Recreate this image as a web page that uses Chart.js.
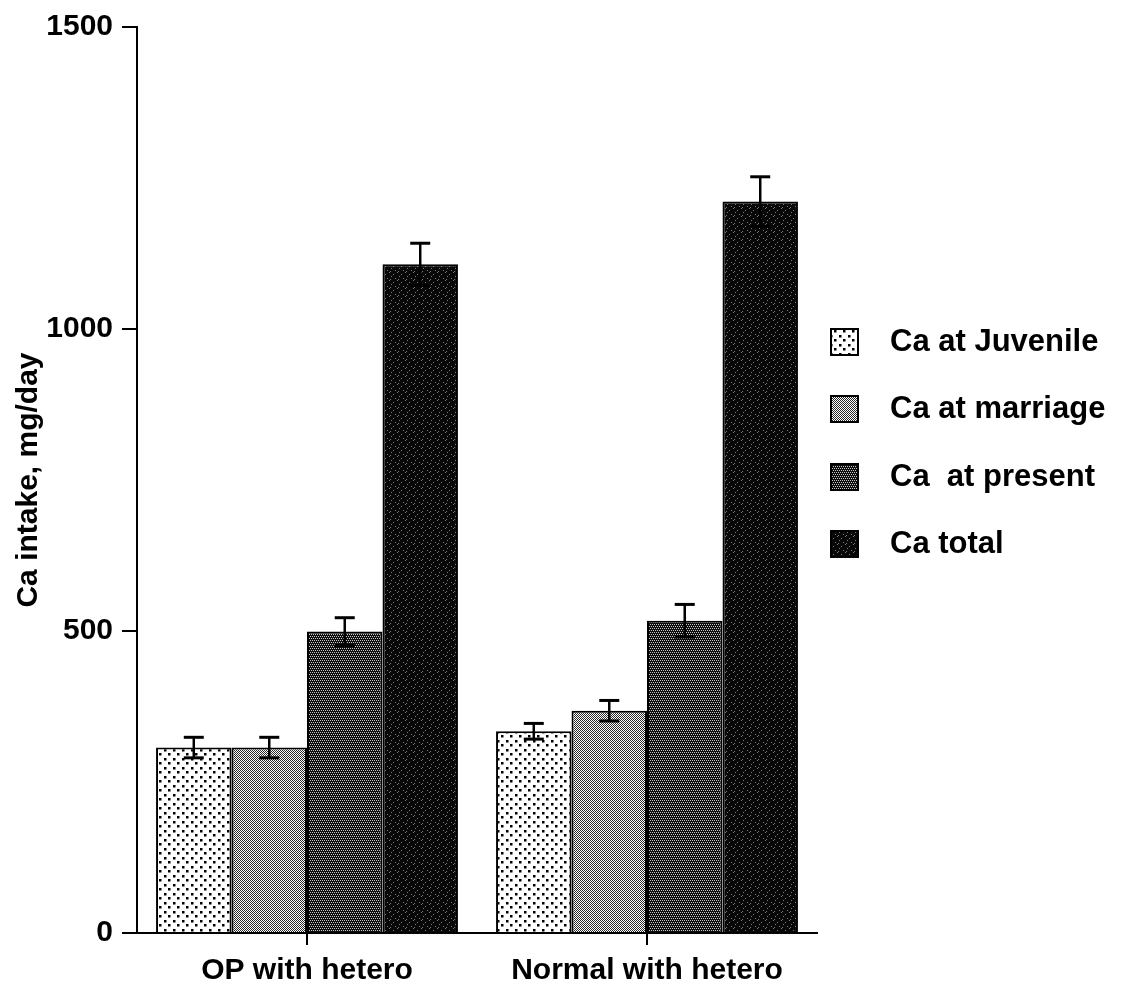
<!DOCTYPE html>
<html>
<head>
<meta charset="utf-8">
<script src="https://cdn.jsdelivr.net/npm/chart.js@4/dist/chart.umd.min.js"></script>
<style>
  html, body { margin: 0; padding: 0; background: #fff; }
  #wrap { width: 1122px; height: 989px; position: relative; }
</style>
</head>
<body>
<div id="wrap"><canvas id="c"></canvas></div>
<script>
// ---- data ----
const categories = ['OP with hetero', 'Normal with hetero'];
const seriesNames = ['Ca at Juvenile', 'Ca at marriage', 'Ca  at present', 'Ca total'];
const caJuvenile = [307, 334];
const caMarriage = [307, 368];
const caPresent  = [499, 517];
const caTotal    = [1107, 1211];
const errJuvenile = [17, 13];
const errMarriage = [17, 17];
const errPresent  = [23, 27];
const errTotal    = [35, 41];
const yTicks = [0, 500, 1000, 1500];

// ---- patterns ----
function makePattern(size, base, ink, pixels, px) {
  const c = document.createElement('canvas');
  c.width = c.height = size;
  const g = c.getContext('2d');
  g.fillStyle = base; g.fillRect(0, 0, size, size);
  g.fillStyle = ink;
  pixels.forEach(p => g.fillRect(p[0], p[1], px || 1, px || 1));
  return g.createPattern(c, 'repeat');
}
const pJuvenile = makePattern(9, '#ffffff', '#000000', [[2,2],[6,6]], 2.5);
const pMarriage = makePattern(2, '#ffffff', '#2a2a2a', [[0,0],[1,1]], 1);
const pPresent  = makePattern(4, '#0e0e0e', '#c8c8c8', [[0,0],[2,0],[1,2],[3,2]], 1);
const pTotal    = makePattern(8, '#080808', '#7a7a7a', [[1,2],[5,0],[3,6],[7,4],[6,7]], 1);
const fills = [pJuvenile, pMarriage, pPresent, pTotal];
const values = [caJuvenile, caMarriage, caPresent, caTotal];
const errors = [errJuvenile, errMarriage, errPresent, errTotal];

const FONT = 'Liberation Sans, Arial, Helvetica, sans-serif';

const errorBars = {
  id: 'errorBars',
  afterDatasetsDraw(chart) {
    const ctx = chart.ctx;
    const y = chart.scales.y;
    ctx.save();
    ctx.strokeStyle = '#000';
    chart.data.datasets.forEach((ds, i) => {
      const meta = chart.getDatasetMeta(i);
      meta.data.forEach((el, j) => {
        const v = ds.data[j], e = errors[i][j];
        const x = el.x;
        const yt = y.getPixelForValue(v + e);
        const yb = y.getPixelForValue(v - e);
        ctx.lineWidth = 2.5;
        ctx.beginPath(); ctx.moveTo(x, yt); ctx.lineTo(x, yb); ctx.stroke();
        ctx.lineWidth = 3;
        ctx.beginPath(); ctx.moveTo(x - 10, yt); ctx.lineTo(x + 10, yt); ctx.stroke();
        ctx.beginPath(); ctx.moveTo(x - 10, yb); ctx.lineTo(x + 10, yb); ctx.stroke();
      });
    });
    ctx.restore();
  }
};

const customLegend = {
  id: 'customLegend',
  afterDraw(chart) {
    const ctx = chart.ctx;
    const rows = [342, 409, 477, 544];
    ctx.save();
    seriesNames.forEach((name, i) => {
      const cy = rows[i];
      ctx.fillStyle = fills[i];
      ctx.fillRect(831, cy - 13, 27, 26);
      ctx.strokeStyle = '#000';
      ctx.lineWidth = 2;
      ctx.strokeRect(831, cy - 13, 27, 26);
      ctx.fillStyle = '#000';
      ctx.font = 'bold 31px ' + FONT;
      ctx.textBaseline = 'middle';
      ctx.textAlign = 'left';
      ctx.fillText(name, 890, cy);
    });
    ctx.restore();
  }
};

new Chart(document.getElementById('c'), {
  type: 'bar',
  data: {
    labels: categories,
    datasets: seriesNames.map((n, i) => ({
      label: n,
      data: values[i],
      backgroundColor: fills[i],
      borderColor: '#000',
      borderWidth: 2,
      categoryPercentage: 0.888,
      barPercentage: 1.0
    }))
  },
  options: {
    responsive: true,
    maintainAspectRatio: false,
    animation: false,
    devicePixelRatio: 1,
    layout: { padding: { left: 0, right: 305, top: 25, bottom: 0 } },
    plugins: { legend: { display: false }, tooltip: { enabled: false } },
    scales: {
      x: {
        afterFit(s) { s.height = 56; },
        grid: { display: true, drawOnChartArea: false, offset: false, tickLength: 12, color: '#000', lineWidth: 2 },
        border: { display: true, color: '#000', width: 2 },
        ticks: { color: '#000', padding: 8, font: { family: FONT, size: 30, weight: 'bold' } }
      },
      y: {
        min: 0, max: 1500,
        afterFit(s) { s.width = 137; },
        afterBuildTicks(s) { s.ticks = yTicks.map(v => ({ value: v })); },
        grid: { display: true, drawOnChartArea: false, tickLength: 15, color: '#000', lineWidth: 2 },
        border: { display: true, color: '#000', width: 2 },
        ticks: { color: '#000', padding: 9, font: { family: FONT, size: 30, weight: 'bold' }, callback: v => String(v) },
        title: { display: true, text: 'Ca intake, mg/day', color: '#000', padding: { top: 11, bottom: 0 }, font: { family: FONT, size: 30, weight: 'bold' } }
      }
    }
  },
  plugins: [errorBars, customLegend]
});
</script>
</body>
</html>
